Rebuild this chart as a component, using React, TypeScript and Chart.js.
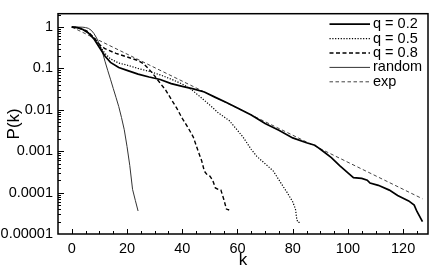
import React, { useEffect, useRef } from 'react';
import { Chart, registerables } from 'chart.js';

Chart.register(...registerables);

// ---- data ----
const q02K = [0, 2, 4, 6, 8, 10, 12, 14, 17, 20, 24, 28, 32, 36, 40, 44, 48, 52, 56, 60, 65, 70, 75, 80, 85, 88, 91, 94, 97, 100, 102, 105, 107, 108, 111, 115, 118, 122, 124, 125, 127];
const q02P = [1, 0.97, 0.87, 0.72, 0.52, 0.32, 0.2, 0.14, 0.105, 0.09, 0.073, 0.062, 0.054, 0.043, 0.037, 0.032, 0.027, 0.02, 0.015, 0.011, 0.0075, 0.0047, 0.0032, 0.0021, 0.0016, 0.0014, 0.001, 0.0007, 0.00045, 0.0003, 0.00023, 0.00022, 0.0002, 0.00017, 0.00015, 0.000115, 0.000085, 0.000063, 0.00005, 0.000035, 0.00002];

const q05K = [0, 2, 4, 6, 8, 10, 12, 14, 17, 20, 24, 28, 32, 36, 40, 43, 46, 50, 53, 57, 60, 62, 65, 67, 70, 73, 76, 78, 80, 81, 81.5, 82, 83];
const q05P = [1, 0.97, 0.88, 0.73, 0.54, 0.36, 0.23, 0.17, 0.135, 0.12, 0.1, 0.085, 0.07, 0.055, 0.042, 0.032, 0.022, 0.013, 0.0085, 0.0055, 0.0032, 0.0022, 0.0011, 0.00075, 0.0005, 0.00033, 0.00016, 0.0001, 0.00006, 0.00004, 0.000022, 0.000019, 0.000019];

const q08K = [0, 2, 4, 6, 8, 10, 12, 16, 20, 24, 26, 28, 30, 32, 34, 36, 38, 40, 42, 44, 46, 47, 48, 49, 50, 51, 52, 53, 54, 55, 56, 57];
const q08P = [1, 0.97, 0.9, 0.76, 0.55, 0.38, 0.3, 0.23, 0.19, 0.155, 0.13, 0.095, 0.066, 0.044, 0.03, 0.018, 0.011, 0.0062, 0.0038, 0.0022, 0.0009, 0.0006, 0.00033, 0.00027, 0.00025, 0.0002, 0.00013, 0.00012, 0.000115, 0.00007, 0.00004, 0.000038];

const randomK = [0, 2, 4, 5, 6, 7, 8, 9, 10, 11, 12, 13, 14, 15, 16, 17, 18, 19, 20, 21, 22, 23, 24];
const randomP = [1, 1, 0.99, 0.97, 0.93, 0.84, 0.7, 0.54, 0.38, 0.26, 0.15, 0.09, 0.055, 0.033, 0.02, 0.012, 0.0065, 0.0033, 0.0013, 0.00045, 0.00012, 0.000065, 0.000036];

const expK = [0, 127];
const expP = [1, 0.000071];

const seriesLabels = ['q = 0.2', 'q = 0.5', 'q = 0.8', 'random', 'exp'];
const xTickValues = [0, 20, 40, 60, 80, 100, 120];
const yTickValues = [0.00001, 0.0001, 0.001, 0.01, 0.1, 1];
const yTickLabels = ['0.00001', '0.0001', '0.001', '0.01', '0.1', '1'];

const FONT = '"Liberation Sans", Arial, Helvetica, sans-serif';

function pts(k: number[], p: number[]) {
  return k.map((v, i) => ({ x: v, y: p[i] }));
}

const framePlugin = {
  id: 'frameAndLegend',
  afterDraw(chart: any) {
    const { ctx, chartArea: a, scales } = chart;
    const xs = scales.x;
    const ys = scales.y;
    ctx.save();
    ctx.strokeStyle = '#000';
    ctx.lineWidth = 1;
    ctx.setLineDash([]);
    ctx.beginPath();
    // x ticks (inward)
    for (let v = -5; v <= xs.max; v += 5) {
      const px = Math.round(xs.getPixelForValue(v)) + 0.5;
      if (px <= a.left + 1 || px >= a.right - 1) continue;
      const len = v % 20 === 0 ? 5 : 3;
      ctx.moveTo(px, a.bottom);
      ctx.lineTo(px, a.bottom - len);
    }
    // y ticks (inward), log minor ticks
    for (let e = -5; e <= 0; e++) {
      for (let m = 1; m <= 9; m++) {
        const v = m * Math.pow(10, e);
        if (v > ys.max) break;
        const py = Math.round(ys.getPixelForValue(v)) + 0.5;
        if (py >= a.bottom - 1 || py <= a.top + 1) continue;
        const len = m === 1 ? 6 : 3;
        ctx.moveTo(a.left, py);
        ctx.lineTo(a.left + len, py);
      }
    }
    ctx.stroke();
    // frame
    ctx.lineWidth = 1.5;
    ctx.strokeRect(a.left, a.top, a.right - a.left, a.bottom - a.top);

    // legend inside top-right
    ctx.font = '14.5px ' + FONT;
    ctx.textBaseline = 'middle';
    ctx.textAlign = 'left';
    ctx.fillStyle = '#000';
    chart.data.datasets.forEach((ds: any, i: number) => {
      const y = a.top + 10.5 + i * 14.4;
      ctx.beginPath();
      ctx.strokeStyle = ds.borderColor;
      ctx.lineWidth = ds.borderWidth;
      ctx.setLineDash(ds.borderDash || []);
      ctx.moveTo(a.right - 98.5, y);
      ctx.lineTo(a.right - 58, y);
      ctx.stroke();
      ctx.setLineDash([]);
      ctx.fillText(ds.label, a.right - 55, y);
    });
    ctx.restore();
  },
};

export default function App() {
  const ref = useRef<HTMLCanvasElement | null>(null);

  useEffect(() => {
    document.body.style.margin = '0';
    const canvas = ref.current;
    if (!canvas) return;
    const chart = new Chart(canvas, {
      type: 'line',
      data: {
        datasets: [
          { label: seriesLabels[0], data: pts(q02K, q02P), borderColor: '#000', borderWidth: 1.7, borderDash: [] },
          { label: seriesLabels[1], data: pts(q05K, q05P), borderColor: '#000', borderWidth: 1.2, borderDash: [1.2, 1.6] },
          { label: seriesLabels[2], data: pts(q08K, q08P), borderColor: '#000', borderWidth: 1.4, borderDash: [4, 2.5] },
          { label: seriesLabels[3], data: pts(randomK, randomP), borderColor: '#333', borderWidth: 1, borderDash: [] },
          { label: seriesLabels[4], data: pts(expK, expP), borderColor: '#444', borderWidth: 1, borderDash: [3.5, 2.5] },
        ] as any,
      },
      options: {
        animation: false,
        responsive: false,
        devicePixelRatio: 1,
        layout: { padding: { left: 0, top: 5, right: 8, bottom: 0 } },
        elements: { point: { radius: 0 }, line: { tension: 0, fill: false } },
        plugins: { legend: { display: false }, tooltip: { enabled: false } },
        scales: {
          x: {
            type: 'linear',
            min: -5,
            max: 129,
            grid: { display: false, drawTicks: false },
            border: { display: false },
            afterBuildTicks: (scale: any) => {
              scale.ticks = xTickValues.map((v) => ({ value: v }));
            },
            afterFit: (scale: any) => {
              scale.height = 34;
            },
            ticks: {
              autoSkip: false,
              maxRotation: 0,
              padding: 6,
              color: '#000',
              font: { family: FONT, size: 14.5 },
              callback: (v: any) => String(v),
            },
            title: {
              display: true,
              text: 'k',
              color: '#000',
              font: { family: FONT, size: 17, lineHeight: 1 },
              padding: { top: 0, bottom: -1 },
            },
          },
          y: {
            type: 'logarithmic',
            min: 0.00001,
            max: 2.1,
            grid: { display: false, drawTicks: false },
            border: { display: false },
            afterBuildTicks: (scale: any) => {
              scale.ticks = yTickValues.map((v) => ({ value: v }));
            },
            afterFit: (scale: any) => {
              scale.width = 58;
            },
            ticks: {
              autoSkip: false,
              padding: 5,
              color: '#000',
              font: { family: FONT, size: 14.5 },
              callback: (v: any) => {
                const idx = yTickValues.findIndex((t) => Math.abs(Math.log10(t) - Math.log10(v)) < 1e-6);
                return idx >= 0 ? yTickLabels[idx] : '';
              },
            },
            title: {
              display: true,
              text: 'P(k)',
              color: '#000',
              font: { family: FONT, size: 17, lineHeight: 1 },
              padding: { top: 6, bottom: 0 },
            },
          },
        },
      } as any,
      plugins: [framePlugin],
    });
    return () => chart.destroy();
  }, []);

  return (
    <div style={{ width: 436, height: 268 }}>
      <canvas ref={ref} width={436} height={268} style={{ display: 'block' }} />
    </div>
  );
}
